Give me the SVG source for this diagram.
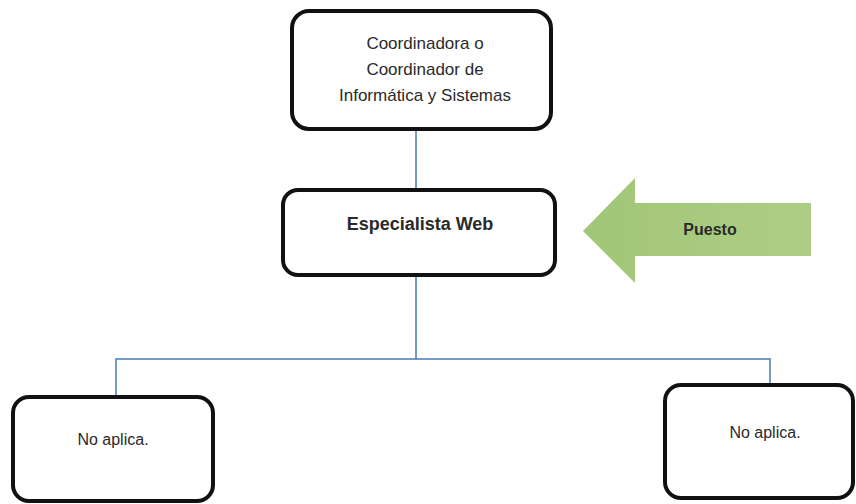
<svg xmlns="http://www.w3.org/2000/svg" width="856" height="504" viewBox="0 0 856 504">
<style>
.box{fill:#fff;stroke:#111;stroke-width:4}
.t{font-family:"Liberation Sans",Arial,sans-serif;fill:#2a2a2a;text-anchor:middle}
.b{font-weight:bold}
.c{fill:none;stroke:#4a7ab5;stroke-width:1.5}
</style>
<defs>
<linearGradient id="g" x1="0" y1="0" x2="1" y2="0">
<stop offset="0" stop-color="#a1c677"/>
<stop offset="1" stop-color="#aecd84"/>
</linearGradient>
</defs>
<rect width="856" height="504" fill="#fff"/>
<g id="connectors">
<path class="c" d="M416 129V190"/>
<path class="c" d="M416 275V359M116 397V359H770V385"/>
</g>
<g id="coordinador">
<rect class="box" x="292" y="11" width="259" height="118" rx="17"/>
<text class="t" font-size="17" x="425" y="49">Coordinadora o</text>
<text class="t" font-size="17" x="425" y="75">Coordinador de</text>
<text class="t" font-size="17" x="425" y="101">Informática y Sistemas</text>
</g>
<g id="especialista">
<rect class="box" x="283" y="190" width="272" height="85" rx="15"/>
<text class="t b" font-size="18" x="420" y="230">Especialista Web</text>
</g>
<g id="puesto">
<path d="M583 231L635 178V203H811V256H635V283Z" fill="url(#g)"/>
<text class="t b" font-size="16" x="710" y="235" fill="#1a1a1a">Puesto</text>
</g>
<g id="noaplica1">
<rect class="box" x="13" y="397" width="200" height="104" rx="16"/>
<text class="t" font-size="16" x="113" y="445">No aplica.</text>
</g>
<g id="noaplica2">
<rect class="box" x="665" y="385" width="188" height="113" rx="16"/>
<text class="t" font-size="16" x="765" y="438">No aplica.</text>
</g>
</svg>
